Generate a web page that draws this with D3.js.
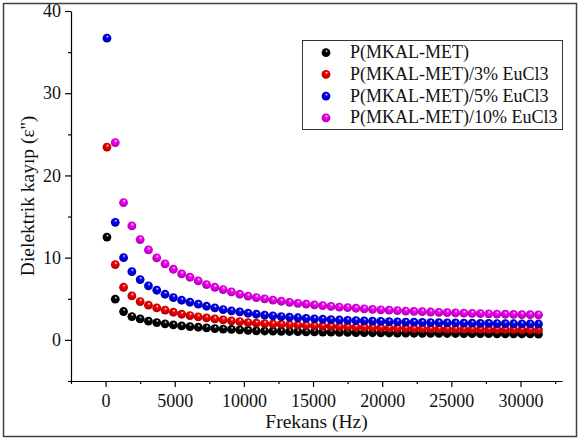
<!DOCTYPE html>
<html>
<head>
<meta charset="utf-8">
<script src="https://cdn.jsdelivr.net/npm/d3@7"></script>
<style>
  body { margin: 0; background: #fff; }
  svg { display: block; }
</style>
</head>
<body>
<div id="chart"></div>
<script>
// data
const freq = [100, 700, 1300, 1900, 2500, 3100, 3700, 4300, 4900, 5500,
  6100, 6700, 7300, 7900, 8500, 9100, 9700, 10300, 10900, 11500,
  12100, 12700, 13300, 13900, 14500, 15100, 15700, 16300, 16900, 17500,
  18100, 18700, 19300, 19900, 20500, 21100, 21700, 22300, 22900, 23500,
  24100, 24700, 25300, 25900, 26500, 27100, 27700, 28300, 28900, 29500,
  30100, 30700, 31300];

const pure = [12.5, 4.95, 3.45, 2.84, 2.55, 2.27, 2.11, 1.95, 1.82, 1.70,
  1.62, 1.54, 1.46, 1.38, 1.32, 1.27, 1.22, 1.16, 1.10, 1.08,
  1.06, 1.04, 1.02, 1.00, 0.98, 0.97, 0.95, 0.94, 0.92, 0.91,
  0.89, 0.88, 0.87, 0.85, 0.84, 0.83, 0.82, 0.81, 0.80, 0.80,
  0.79, 0.78, 0.78, 0.77, 0.76, 0.76, 0.75, 0.74, 0.74, 0.73,
  0.72, 0.72, 0.71];

const eu3 = [23.45, 9.16, 6.40, 5.35, 4.66, 4.22, 3.89, 3.61, 3.36, 3.12,
  2.96, 2.80, 2.67, 2.55, 2.43, 2.31, 2.23, 2.11, 2.03, 1.98,
  1.93, 1.88, 1.83, 1.79, 1.75, 1.71, 1.68, 1.64, 1.61, 1.58,
  1.55, 1.52, 1.49, 1.46, 1.43, 1.41, 1.39, 1.37, 1.36, 1.34,
  1.33, 1.32, 1.31, 1.30, 1.29, 1.28, 1.27, 1.26, 1.25, 1.24,
  1.23, 1.23, 1.22];

const eu5 = [36.7, 14.3, 10.0, 8.3, 7.33, 6.57, 6.04, 5.55, 5.15, 4.82,
  4.58, 4.34, 4.09, 3.89, 3.69, 3.53, 3.40, 3.24, 3.12, 3.02,
  2.93, 2.84, 2.76, 2.69, 2.62, 2.56, 2.51, 2.46, 2.42, 2.38,
  2.34, 2.31, 2.28, 2.25, 2.22, 2.19, 2.17, 2.15, 2.13, 2.11,
  2.09, 2.07, 2.06, 2.04, 2.03, 2.01, 2.00, 1.99, 1.97, 1.96,
  1.95, 1.94, 1.93];

// first point of the 10% sample is not shown (off scale)
const eu10 = [null, 24.0, 16.7, 13.86, 12.2, 10.94, 9.97, 9.24, 8.59, 8.02,
  7.62, 7.17, 6.73, 6.40, 6.12, 5.84, 5.55, 5.33, 5.14, 4.98,
  4.83, 4.70, 4.57, 4.45, 4.35, 4.25, 4.16, 4.07, 3.99, 3.92,
  3.85, 3.78, 3.72, 3.66, 3.61, 3.56, 3.51, 3.47, 3.43, 3.39,
  3.35, 3.31, 3.28, 3.25, 3.22, 3.19, 3.17, 3.14, 3.12, 3.10,
  3.08, 3.06, 3.05];

const seriesNames = ["P(MKAL-MET)", "P(MKAL-MET)/3% EuCl3", "P(MKAL-MET)/5% EuCl3", "P(MKAL-MET)/10% EuCl3"];
const seriesValues = [pure, eu3, eu5, eu10];
const seriesColors = ["#000000", "#ff0000", "#0000ff", "#ff00ff"];
const seriesDark = ["#000000", "#a00000", "#00009a", "#a000a0"];

const xTicks = [0, 5000, 10000, 15000, 20000, 25000, 30000];
const xMinor = [-2500, 2500, 7500, 12500, 17500, 22500, 27500, 32500];
const yTicks = [0, 10, 20, 30, 40];
const yMinor = [-5, 5, 15, 25, 35];

const W = 579, H = 441;
const font = "'Liberation Serif', 'Times New Roman', serif";

const svg = d3.select("#chart").append("svg")
    .attr("width", W)
    .attr("height", H)
    .style("font-family", font);

// outer frame
svg.append("rect")
    .attr("x", 3.5).attr("y", 3.5)
    .attr("width", 573).attr("height", 433)
    .attr("fill", "none")
    .attr("stroke", "#404040")
    .attr("stroke-width", 1.5);

const x = d3.scaleLinear().domain([-2500, 33000]).range([71, 562]);
const y = d3.scaleLinear().domain([-5, 40]).range([381, 11]);

// sphere gradients
const defs = svg.append("defs");
seriesColors.forEach((c, i) => {
  const g = defs.append("radialGradient")
      .attr("id", "ball" + i)
      .attr("cx", "50%").attr("cy", "50%").attr("r", "55%")
      .attr("fx", "58%").attr("fy", "28%");
  g.append("stop").attr("offset", "0%").attr("stop-color", "#ffffff");
  g.append("stop").attr("offset", "30%").attr("stop-color", c);
  g.append("stop").attr("offset", "100%").attr("stop-color", seriesDark[i]);
});

// axes
const xAxis = svg.append("g")
    .attr("transform", `translate(0, ${y(-5)})`)
    .call(d3.axisBottom(x).tickValues(xTicks).tickSize(6).tickSizeOuter(0).tickFormat(d3.format("d")));
xAxis.selectAll("text")
    .attr("y", 26).attr("dy", null)
    .style("font-size", "18px").style("font-family", font).attr("fill", "#111");

svg.append("g")
    .attr("transform", `translate(0, ${y(-5)})`)
    .call(d3.axisBottom(x).tickValues(xMinor).tickSize(3).tickSizeOuter(0).tickFormat(""))
    .select(".domain").remove();

const yAxis = svg.append("g")
    .attr("transform", `translate(${x(-2500)}, 0)`)
    .call(d3.axisLeft(y).tickValues(yTicks).tickSize(6).tickSizeOuter(0).tickPadding(4));
yAxis.selectAll("text")
    .style("font-size", "18px").style("font-family", font).attr("fill", "#111");

svg.append("g")
    .attr("transform", `translate(${x(-2500)}, 0)`)
    .call(d3.axisLeft(y).tickValues(yMinor).tickSize(3).tickSizeOuter(0).tickFormat(""))
    .select(".domain").remove();

svg.selectAll(".domain, .tick line").attr("stroke", "#000").attr("stroke-width", 1.2);

// axis titles
svg.append("text")
    .attr("x", (x(-2500) + x(33000)) / 2)
    .attr("y", 428)
    .attr("text-anchor", "middle")
    .style("font-size", "19.5px")
    .attr("fill", "#111")
    .text("Frekans (Hz)");

svg.append("text")
    .attr("transform", `translate(34, ${(y(-5) + y(40)) / 2}) rotate(-90)`)
    .attr("text-anchor", "middle")
    .style("font-size", "19.5px")
    .attr("fill", "#111")
    .text("Dielektrik kayıp (ε'')");

// points
seriesValues.forEach((vals, i) => {
  const pts = freq.map((f, j) => ({f: f, v: vals[j]})).filter(d => d.v != null);
  svg.append("g").selectAll("circle")
    .data(pts)
    .join("circle")
      .attr("cx", d => x(d.f))
      .attr("cy", d => y(d.v))
      .attr("r", 4.4)
      .attr("fill", `url(#ball${i})`);
});

// legend
const legend = svg.append("g");
legend.append("rect")
    .attr("x", 302.5).attr("y", 40.5)
    .attr("width", 260).attr("height", 89)
    .attr("fill", "#fff")
    .attr("stroke", "#333")
    .attr("stroke-width", 1);

seriesNames.forEach((name, i) => {
  const cy = 52.7 + i * 21.7;
  legend.append("circle")
      .attr("cx", 326).attr("cy", cy)
      .attr("r", 4.4)
      .attr("fill", `url(#ball${i})`);
  legend.append("text")
      .attr("x", 350).attr("y", cy + 5.5)
      .style("font-size", "18px")
      .attr("fill", "#111")
      .text(name);
});
</script>
</body>
</html>
